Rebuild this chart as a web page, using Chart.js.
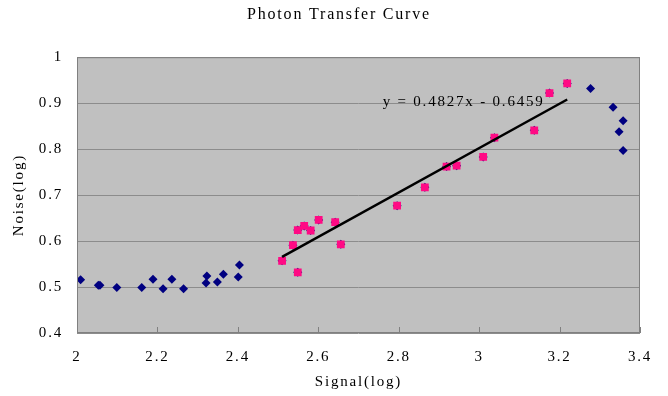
<!DOCTYPE html>
<html><head><meta charset="utf-8">
<script src="https://cdn.jsdelivr.net/npm/chart.js@4.4.1/dist/chart.umd.min.js"></script>
<style>html,body{margin:0;padding:0;background:#fff}#wrap{width:668px;height:396px}</style>
</head><body><div id="wrap"><canvas id="c" width="668" height="396"></canvas></div>
<script>
const allSignal = [2.009,2.053,2.057,2.099,2.161,2.189,2.214,2.236,2.265,2.321,2.323,2.349,2.364,2.401,2.404,
  2.510,2.549,2.537,2.549,2.565,2.581,2.601,2.642,2.656,2.796,2.865,2.919,2.944,3.010,3.038,3.137,3.175,3.219,
  3.277,3.333,3.358,3.348,3.358];
const allNoise = [0.516,0.504,0.504,0.499,0.499,0.517,0.496,0.517,0.496,0.509,0.524,0.511,0.528,0.522,0.548,
  0.557,0.532,0.591,0.624,0.633,0.623,0.646,0.641,0.593,0.677,0.717,0.762,0.764,0.783,0.825,0.841,0.922,0.943,
  0.932,0.891,0.862,0.838,0.797];
const fitSignal = [2.510,2.549,2.537,2.549,2.565,2.581,2.601,2.642,2.656,2.796,2.865,2.919,2.944,3.010,3.038,3.137,3.175,3.219];
const fitNoise = [0.557,0.532,0.591,0.624,0.633,0.623,0.646,0.641,0.593,0.677,0.717,0.762,0.764,0.783,0.825,0.841,0.922,0.943];
const trendSlope = 0.4827, trendIntercept = -0.6459;
const trendRange = [2.510, 3.219];
const xTicks = [2,2.2,2.4,2.6,2.8,3,3.2,3.4];
const yTicks = [0.4,0.5,0.6,0.7,0.8,0.9,1];
const trendLabel = 'y = 0.4827x - 0.6459';

const FONT = "'Liberation Serif', 'DejaVu Serif', serif";
const SPACING = '1.8px';
const toPts = (xs, ys) => xs.map((x,i)=>({x, y: ys[i]}));
const trendPts = trendRange.map(x => ({x, y: trendSlope*x + trendIntercept}));

const bgPlugin = {
  id:'bg',
  beforeLayout(chart){ chart.ctx.letterSpacing = SPACING; },
  beforeDraw(chart){
    const {ctx, chartArea:a} = chart;
    ctx.letterSpacing = SPACING;
    ctx.save(); ctx.fillStyle='#c0c0c0'; ctx.fillRect(a.left,a.top,a.right-a.left,a.bottom-a.top); ctx.restore();
  },
  afterDatasetsDraw(chart){
    const {ctx, chartArea:a, scales} = chart;
    ctx.save();
    ctx.strokeStyle='#808080'; ctx.lineWidth=1;
    ctx.strokeRect(a.left+0.5,a.top+0.5,a.right-a.left-1,a.bottom-a.top-1);
    ctx.beginPath();
    xTicks.forEach(v=>{const px=Math.round(scales.x.getPixelForValue(v))+0.5; ctx.moveTo(px,a.bottom); ctx.lineTo(px,a.bottom-6);});
    ctx.stroke();
    ctx.fillStyle='#000'; ctx.font="15px "+FONT; ctx.textAlign='left'; ctx.textBaseline='middle';
    ctx.fillText(trendLabel, scales.x.getPixelForValue(2.760), scales.y.getPixelForValue(0.902));
    ctx.restore();
  }
};

new Chart(document.getElementById('c'), {
  type:'scatter',
  data:{datasets:[
    {label:'trend', type:'line', data:trendPts, borderColor:'#000', borderWidth:2.5, pointRadius:0, fill:false, order:0},
    {label:'fit', data:toPts(fitSignal, fitNoise), pointStyle:'rect', pointRadius:5.5, backgroundColor:'#ff0a84', borderColor:'#ff0a84', borderWidth:0, order:1},
    {label:'all', data:toPts(allSignal, allNoise), pointStyle:'rectRot', pointRadius:4.5, backgroundColor:'#000080', borderColor:'#000080', borderWidth:0, order:2}
  ]},
  options:{
    responsive:false, animation:false, devicePixelRatio:1,
    layout:{padding:{left:10,right:0,top:0,bottom:1}},
    plugins:{
      legend:{display:false}, tooltip:{enabled:false},
      title:{display:true, text:'Photon Transfer Curve', color:'#000', font:{family:FONT,size:16,weight:'normal'}, padding:{top:5,bottom:33}}
    },
    scales:{
      x:{type:'linear', min:2, max:3.4,
        afterBuildTicks(s){ s.ticks = xTicks.map(v=>({value:v})); },
        afterFit(s){ s.height = 62; },
        grid:{display:false, drawTicks:false},
        border:{display:false},
        ticks:{color:'#000', font:{family:FONT,size:15}, padding:15, maxRotation:0, callback:v=>String(v)},
        title:{display:true, text:'Signal(log)', color:'#000', font:{family:FONT,size:15}, padding:{top:3}}
      },
      y:{type:'linear', min:0.4, max:1,
        afterBuildTicks(s){ s.ticks = yTicks.map(v=>({value:v})); },
        afterFit(s){ s.width = 67; },
        grid:{color:'#8c8c8c', lineWidth:1, drawTicks:false},
        border:{display:false},
        ticks:{color:'#000', font:{family:FONT,size:15}, padding:14, callback:v=>String(Math.round(v*10)/10)},
        title:{display:true, text:'Noise(log)', color:'#000', font:{family:FONT,size:15}, padding:{top:0,bottom:0}}
      },
      yr:{type:'linear', position:'right', min:0.4, max:1, display:true,
        afterFit(s){ s.width = 28; },
        grid:{display:false, drawTicks:false}, border:{display:false}, ticks:{display:false}
      }
    }
  },
  plugins:[bgPlugin]
});
</script></body></html>
